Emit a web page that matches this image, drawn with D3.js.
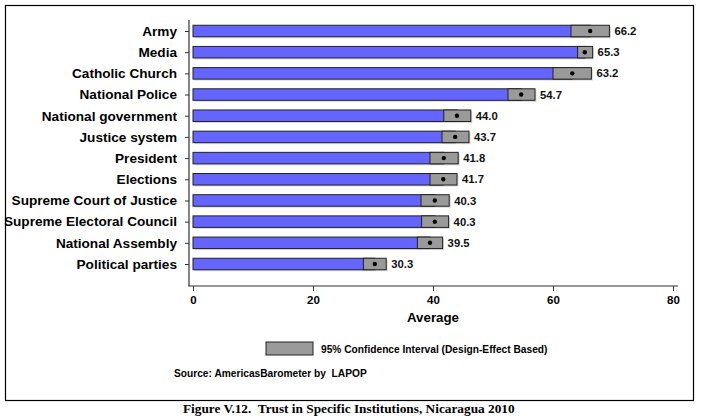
<!DOCTYPE html>
<html><head><meta charset="utf-8">
<script src="https://cdn.jsdelivr.net/npm/d3@7"></script>
<style>body{margin:0;background:#fff}svg{display:block}</style>
</head><body>
<script>
const categories = ["Army","Media","Catholic Church","National Police","National government","Justice system","President","Elections","Supreme Court of Justice","Supreme Electoral Council","National Assembly","Political parties"];
const means = [66.2,65.3,63.2,54.7,44.0,43.7,41.8,41.7,40.3,40.3,39.5,30.3];
const ciLow = [63.0,64.1,60.0,52.5,41.8,41.5,39.5,39.5,38.0,38.1,37.4,28.4];
const ciHigh = [69.4,66.6,66.4,57.0,46.3,46.0,44.2,44.0,42.7,42.6,41.6,32.2];
const xTicks = [0,20,40,60,80];

const W=701,H=420;
const svg=d3.select("body").append("svg").attr("width",W).attr("height",H);
const F="'Liberation Sans', Arial, sans-serif";

// frame
svg.append("rect").attr("x",5.5).attr("y",5.5).attr("width",688).attr("height",395)
  .attr("fill","none").attr("stroke","#000").attr("stroke-width",1.2);

const x=d3.scaleLinear().domain([0,80]).range([193,673]);
const y=d3.scalePoint().domain(categories).range([31,264]);
const bh=11.5;
const data=categories.map((c,i)=>({c,m:means[i],lo:ciLow[i],hi:ciHigh[i]}));

// shadows
svg.append("g").selectAll("rect").data(data).join("rect")
  .attr("x",x(0)+1.5).attr("y",d=>y(d.c)-bh/2+1.5)
  .attr("width",d=>x(d.hi)-x(0)).attr("height",bh).attr("fill","#d8d8d8");
// bars
svg.append("g").selectAll("rect").data(data).join("rect")
  .attr("x",x(0)).attr("y",d=>y(d.c)-bh/2)
  .attr("width",d=>x(d.m)-x(0)).attr("height",bh)
  .attr("fill","#6464ff").attr("stroke","#222").attr("stroke-width",1);
// CI
svg.append("g").selectAll("rect").data(data).join("rect")
  .attr("x",d=>x(d.lo)).attr("y",d=>y(d.c)-bh/2)
  .attr("width",d=>x(d.hi)-x(d.lo)).attr("height",bh)
  .attr("fill","#9a9a9a").attr("stroke","#222").attr("stroke-width",1);
// dots
svg.append("g").selectAll("circle").data(data).join("circle")
  .attr("cx",d=>x(d.m)).attr("cy",d=>y(d.c)).attr("r",2.2).attr("fill","#000");
// value labels
svg.append("g").selectAll("text").data(data).join("text")
  .attr("x",d=>x(d.hi)+5).attr("y",d=>y(d.c)).attr("dy","0.36em")
  .attr("font-family",F).attr("font-weight","bold").attr("font-size","11.3px").attr("fill","#111")
  .text(d=>d.m.toFixed(1));

// y axis
const yAxis=d3.axisLeft(y).tickSize(4).tickPadding(8);
const gy=svg.append("g").attr("transform","translate(189,0)").call(yAxis);
gy.select(".domain").remove();
svg.append("line").attr("x1",189).attr("x2",189).attr("y1",20).attr("y2",286).attr("stroke","#333").attr("stroke-width",1.2);
gy.selectAll("text").attr("font-family",F).attr("font-weight","bold").attr("font-size","13.6px").attr("fill","#000");
gy.selectAll("line").attr("stroke","#333");

// x axis
const xAxis=d3.axisBottom(x).tickValues(xTicks).tickSize(5).tickPadding(5).tickFormat(d3.format("d"));
const gx=svg.append("g").attr("transform","translate(0,286)").call(xAxis);
gx.select(".domain").remove();
svg.append("line").attr("x1",188.4).attr("x2",678).attr("y1",286).attr("y2",286).attr("stroke","#333").attr("stroke-width",1.2);
gx.selectAll("text").attr("font-family",F).attr("font-weight","bold").attr("font-size","11.5px").attr("fill","#000");
gx.selectAll("line").attr("stroke","#333");

svg.append("text").attr("x",433).attr("y",322).attr("text-anchor","middle")
  .attr("font-family",F).attr("font-weight","bold").attr("font-size","13.3px").text("Average");

// legend
svg.append("rect").attr("x",266).attr("y",342).attr("width",47).attr("height",13)
  .attr("fill","#9a9a9a").attr("stroke","#222");
svg.append("text").attr("x",321).attr("y",349).attr("dy","0.36em")
  .attr("font-family",F).attr("font-weight","bold").attr("font-size","10.2px")
  .text("95% Confidence Interval (Design-Effect Based)");
svg.append("text").attr("x",174).attr("y",373).attr("dy","0.36em")
  .attr("font-family",F).attr("font-weight","bold").attr("font-size","10.2px")
  .style("white-space","pre")
  .text("Source: AmericasBarometer by  LAPOP");

// caption
svg.append("text").attr("x",183).attr("y",412.5)
  .attr("font-family","'Liberation Serif','Times New Roman',serif").attr("font-weight","bold").attr("font-size","13.3px")
  .style("white-space","pre")
  .text("Figure V.12.  Trust in Specific Institutions, Nicaragua 2010");
</script>
</body></html>
